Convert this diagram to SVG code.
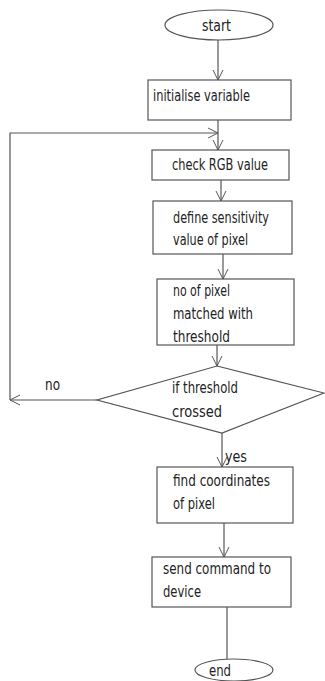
<svg xmlns="http://www.w3.org/2000/svg" width="325" height="681" viewBox="0 0 325 681">
<defs>
<marker id="arr" viewBox="0 0 12 12" refX="11" refY="6" markerWidth="12" markerHeight="12" markerUnits="userSpaceOnUse" orient="auto">
<polyline points="1,1 11,6 1,11" fill="none" stroke="#555" stroke-width="1"/>
</marker>
<style>
.s{fill:#fff;stroke:#555;stroke-width:1.2}
.c{fill:none;stroke:#555;stroke-width:1.2}
.t{font-family:"DejaVu Sans Condensed","Liberation Sans",sans-serif;font-size:16px;fill:#222}
</style>
</defs>
<rect width="325" height="681" fill="#fff"/>
<g id="connectors">
<line class="c" x1="218" y1="40" x2="218" y2="80" marker-end="url(#arr)"/>
<line class="c" x1="218" y1="120" x2="218" y2="150" marker-end="url(#arr)"/>
<polyline class="c" points="10,400 10,133 218,133" marker-end="url(#arr)"/>
<line class="c" x1="221" y1="180" x2="221" y2="201" marker-end="url(#arr)"/>
<line class="c" x1="223" y1="254" x2="223" y2="279" marker-end="url(#arr)"/>
<line class="c" x1="217" y1="345" x2="217" y2="366" marker-end="url(#arr)"/>
<line class="c" x1="97" y1="400" x2="10" y2="400" marker-end="url(#arr)"/>
<line class="c" x1="222" y1="433" x2="222" y2="467" marker-end="url(#arr)"/>
<line class="c" x1="224" y1="523" x2="224" y2="557" marker-end="url(#arr)"/>
<line class="c" x1="227" y1="607" x2="227" y2="659"/>
<text class="t" x="45" y="390" textLength="15" lengthAdjust="spacingAndGlyphs">no</text>
<text class="t" x="225" y="462" textLength="22" lengthAdjust="spacingAndGlyphs">yes</text>
</g>
<g id="start">
<ellipse class="s" cx="219" cy="25" rx="54" ry="15"/>
<text class="t" x="202" y="31" textLength="29" lengthAdjust="spacingAndGlyphs">start</text>
</g>
<g id="init">
<rect class="s" x="148" y="80" width="143" height="40"/>
<text class="t" x="153" y="101" textLength="97" lengthAdjust="spacingAndGlyphs">initialise variable</text>
</g>
<g id="rgb">
<rect class="s" x="152" y="150" width="137" height="30"/>
<text class="t" x="172" y="170" textLength="96" lengthAdjust="spacingAndGlyphs">check RGB value</text>
</g>
<g id="sens">
<rect class="s" x="153" y="201" width="139" height="53"/>
<text class="t" x="173" y="223" textLength="96" lengthAdjust="spacingAndGlyphs">define sensitivity</text>
<text class="t" x="173" y="245" textLength="75" lengthAdjust="spacingAndGlyphs">value of pixel</text>
</g>
<g id="match">
<rect class="s" x="157" y="279" width="137" height="66"/>
<text class="t" x="173" y="296" textLength="57" lengthAdjust="spacingAndGlyphs">no of pixel</text>
<text class="t" x="173" y="319" textLength="80" lengthAdjust="spacingAndGlyphs">matched with</text>
<text class="t" x="173" y="342" textLength="57" lengthAdjust="spacingAndGlyphs">threshold</text>
</g>
<g id="decision">
<polygon class="s" points="217,366 324,393 222,433 97,400"/>
<text class="t" x="172" y="393" textLength="66" lengthAdjust="spacingAndGlyphs">if threshold</text>
<text class="t" x="172" y="417" textLength="50" lengthAdjust="spacingAndGlyphs">crossed</text>
</g>
<g id="coords">
<rect class="s" x="157" y="467" width="136" height="56"/>
<text class="t" x="173" y="486" textLength="97" lengthAdjust="spacingAndGlyphs">find coordinates</text>
<text class="t" x="173" y="509" textLength="42" lengthAdjust="spacingAndGlyphs">of pixel</text>
</g>
<g id="send">
<rect class="s" x="152" y="557" width="139" height="50"/>
<text class="t" x="163" y="574" textLength="108" lengthAdjust="spacingAndGlyphs">send command to</text>
<text class="t" x="163" y="597" textLength="38" lengthAdjust="spacingAndGlyphs">device</text>
</g>
<g id="end">
<ellipse class="s" cx="234" cy="670" rx="39" ry="11"/>
<text class="t" x="209" y="676" textLength="22" lengthAdjust="spacingAndGlyphs">end</text>
</g>
</svg>
